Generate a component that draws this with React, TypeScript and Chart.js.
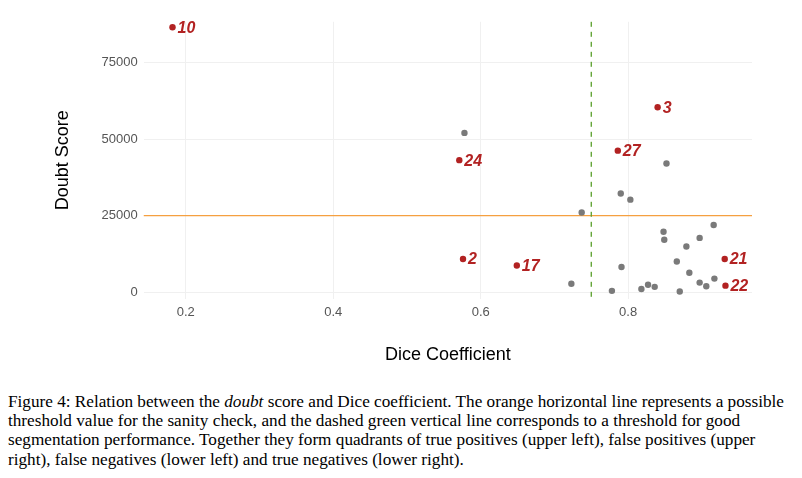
import React, { useEffect, useRef } from "react";
import { Chart, registerables } from "chart.js";
Chart.register(...registerables);

const greyX = [0.737, 0.79, 0.803, 0.852, 0.916, 0.848, 0.849, 0.897, 0.879, 0.866, 0.791, 0.883, 0.723, 0.778, 0.818, 0.827, 0.836, 0.87, 0.897, 0.906, 0.917, 0.578];
const greyY = [26000, 32200, 30200, 42000, 21900, 19700, 17100, 17700, 14900, 10000, 8200, 6300, 2700, 400, 1000, 2400, 1700, 200, 3100, 1900, 4400, 52000];
const redLabels = ["10", "3", "27", "24", "2", "17", "21", "22"];
const redX = [0.182, 0.84, 0.786, 0.571, 0.576, 0.649, 0.931, 0.932];
const redY = [86500, 60400, 46200, 43100, 10800, 8700, 10800, 2100];
const diceThreshold = 0.75;
const doubtThreshold = 25000;
const xTicks = [0.2, 0.4, 0.6, 0.8];
const yTicks = [0, 25000, 50000, 75000];

const XMIN = 0.143, XMAX = 0.968, YMIN = -2200, YMAX = 88300;

const labelPlugin = {
  id: "labels",
  afterDatasetsDraw(chart: any) {
    const { ctx, scales } = chart;
    ctx.save();
    ctx.fillStyle = "#b22222";
    ctx.font = "italic bold 16px 'Liberation Sans', Arial, sans-serif";
    ctx.textBaseline = "middle";
    redLabels.forEach((l, i) => {
      ctx.fillText(l, scales.x.getPixelForValue(redX[i]) + 5, scales.y.getPixelForValue(redY[i]) + 1);
    });
    ctx.restore();
  },
};

const linePlugin = {
  id: "lines",
  beforeDatasetsDraw(chart: any) {
    const { ctx, scales, chartArea } = chart;
    ctx.save();
    const y = scales.y.getPixelForValue(doubtThreshold);
    ctx.strokeStyle = "#f5a040";
    ctx.lineWidth = 1.3;
    ctx.beginPath(); ctx.moveTo(chartArea.left, y); ctx.lineTo(chartArea.right, y); ctx.stroke();
    const x = scales.x.getPixelForValue(diceThreshold);
    ctx.strokeStyle = "#5aa02c";
    ctx.setLineDash([5, 5]);
    ctx.beginPath(); ctx.moveTo(x, chartArea.top); ctx.lineTo(x, chartArea.bottom); ctx.stroke();
    ctx.restore();
  },
};

export default function App() {
  const ref = useRef<HTMLCanvasElement>(null);
  useEffect(() => {
    const chart = new Chart(ref.current!, {
      type: "scatter",
      data: {
        datasets: [
          { data: redX.map((x, i) => ({ x, y: redY[i] })), backgroundColor: "#b22222", borderWidth: 0, pointRadius: 3.2 },
          { data: greyX.map((x, i) => ({ x, y: greyY[i] })), backgroundColor: "#7a7a7a", borderWidth: 0, pointRadius: 3.2 },
        ],
      },
      options: {
        animation: false,
        responsive: false,
        layout: { padding: { top: 0, right: 42, bottom: 0, left: 40 } },
        plugins: { legend: { display: false }, tooltip: { enabled: false } },
        scales: {
          x: {
            type: "linear", min: XMIN, max: XMAX,
            afterBuildTicks: (ax: any) => { ax.ticks = xTicks.map((v) => ({ value: v })); },
            ticks: { color: "#555", font: { size: 13, family: "'Liberation Sans', Arial" }, padding: 6, callback: (v: any) => Number(v).toFixed(1) },
            grid: { color: "#f0f0f0", drawTicks: false },
            border: { display: false },
            title: { display: true, text: "Dice Coefficient", color: "#000", font: { size: 18, family: "'Liberation Sans', Arial" }, padding: { top: 18 } },
          },
          y: {
            type: "linear", min: YMIN, max: YMAX,
            afterBuildTicks: (ax: any) => { ax.ticks = yTicks.map((v) => ({ value: v })); },
            ticks: { color: "#555", font: { size: 13, family: "'Liberation Sans', Arial" }, padding: 6, callback: (v: any) => String(v) },
            grid: { color: "#f0f0f0", drawTicks: false },
            border: { display: false },
            title: { display: true, text: "Doubt Score", color: "#000", font: { size: 18, family: "'Liberation Sans', Arial" }, padding: { bottom: 22 } },
          },
        },
      },
      plugins: [linePlugin, labelPlugin],
    } as any);
    return () => chart.destroy();
  }, []);
  return (
    <div>
      <canvas ref={ref} width={786} height={362} style={{ display: "block" }} />
      <div style={{ fontFamily: "'Liberation Serif', 'Times New Roman', serif", fontSize: 17.2, lineHeight: "19.2px", color: "#000", marginTop: 22, width: 790 }}>
        Figure 4: Relation between the <i>doubt</i> score and Dice coefficient. The orange horizontal line represents a possible threshold value for the sanity check, and the dashed green vertical line corresponds to a threshold for good segmentation performance. Together they form quadrants of true positives (upper left), false positives (upper right), false negatives (lower left) and true negatives (lower right).
      </div>
    </div>
  );
}
